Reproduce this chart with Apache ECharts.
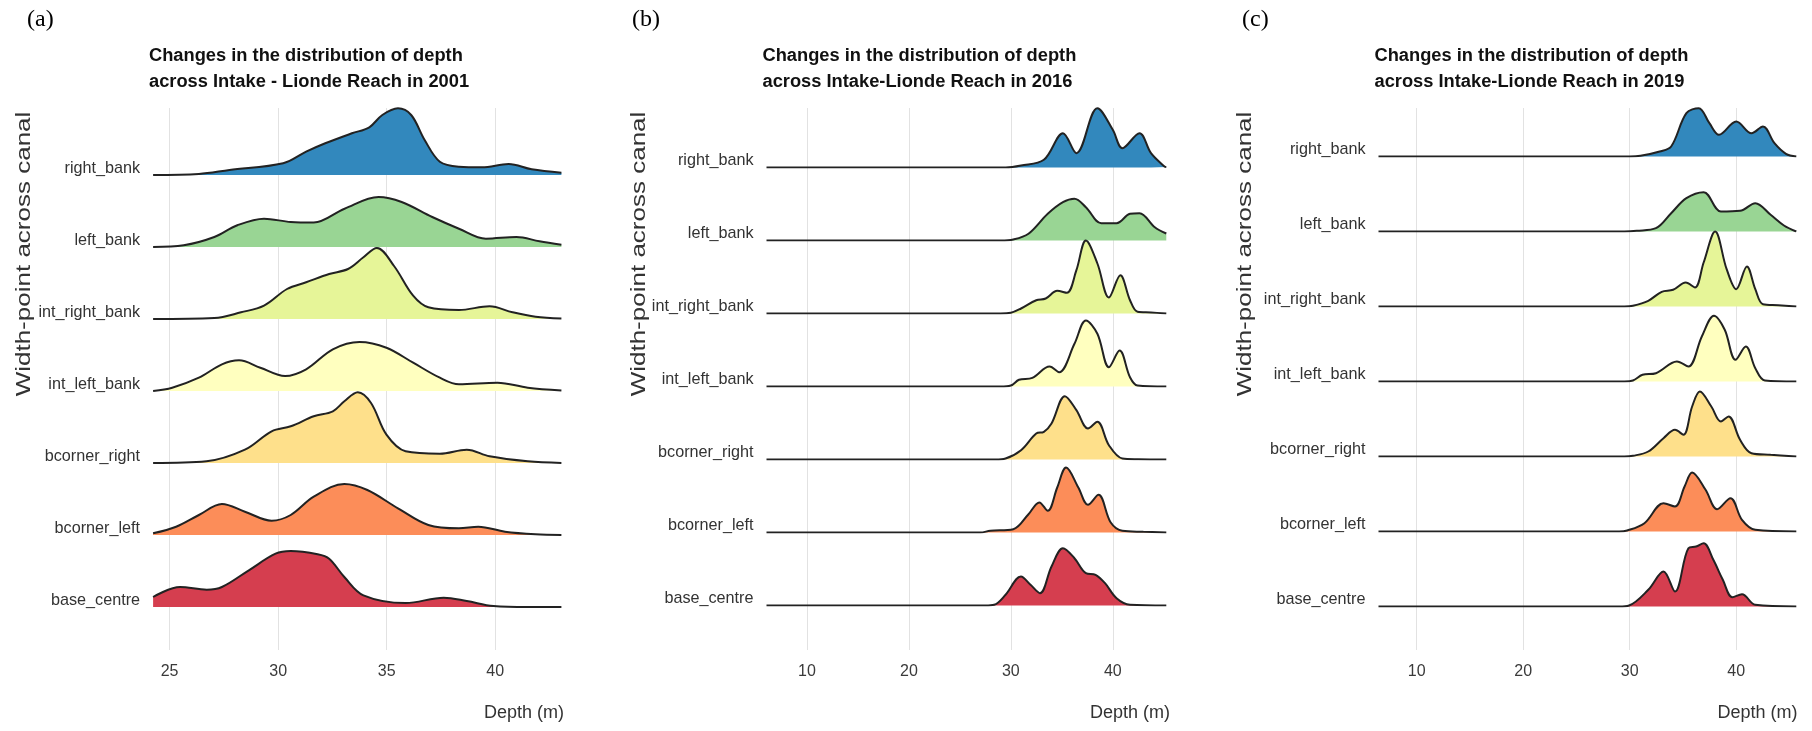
<!DOCTYPE html>
<html>
<head>
<meta charset="utf-8">
<script src="https://cdn.jsdelivr.net/npm/echarts@6/dist/echarts.min.js"></script>
<style>
  html, body { margin: 0; padding: 0; background: #ffffff; }
  #chart { width: 1812px; height: 731px; }
</style>
</head>
<body>
<div id="chart"></div>
<script>
// Ridge categories (top to bottom) and their Spectral fill colours
const categories = ['right_bank', 'left_bank', 'int_right_bank', 'int_left_bank', 'bcorner_right', 'bcorner_left', 'base_centre'];
const ridgeColors = ['#3288BD', '#99D594', '#E6F598', '#FFFFBF', '#FEE08B', '#FC8D59', '#D53E4F'];

const panelTags = ['(a)', '(b)', '(c)'];
const panelTitles = [
  'Changes in the distribution of depth\nacross Intake - Lionde Reach in 2001',
  'Changes in the distribution of depth\nacross Intake-Lionde Reach in 2016',
  'Changes in the distribution of depth\nacross Intake-Lionde Reach in 2019'
];
const yTitle = 'Width-point across canal';
const xTitle = 'Depth (m)';

// Depth range shown on each panel's x axis and the tick step
const depthRanges = [[24.24, 43.05], [6.03, 45.25], [6.41, 45.64]];
const tickSteps = [5, 10, 10];

// ---- Density curves, [depth (m), relative density] ----
// 2001
const rightBank2001 = [[24.24,0],[26.35,0.01],[27.76,0.05],[30.23,0.117],[31.29,0.233],[32.17,0.317],[33.4,0.417],[34.2,0.477],[34.8,0.6],[35.52,0.667],[36.13,0.6],[36.75,0.35],[37.45,0.133],[38.33,0.083],[39.39,0.077],[40.62,0.11],[41.68,0.057],[43.05,0.023]];
const leftBank2001 = [[24.24,0],[25.65,0.017],[27.06,0.1],[28.12,0.217],[29.35,0.283],[30.58,0.25],[31.64,0.245],[33.06,0.383],[34.63,0.5],[35.69,0.45],[37.1,0.3],[38.33,0.183],[39.57,0.083],[40.98,0.1],[42.04,0.057],[43.05,0.023]];
const intRightBank2001 = [[24.24,0],[27.06,0.01],[28.29,0.067],[29.35,0.133],[30.41,0.3],[31.29,0.367],[32.35,0.45],[33.22,0.5],[33.93,0.617],[34.55,0.71],[35.34,0.53],[36.22,0.233],[36.92,0.117],[38.33,0.09],[39.74,0.127],[40.8,0.067],[41.86,0.023],[43.05,0.005]];
const intLeftBank2001 = [[24.24,0],[25.12,0.033],[26.35,0.133],[27.41,0.267],[28.2,0.307],[29.18,0.233],[30.32,0.15],[31.29,0.217],[32.52,0.417],[33.75,0.49],[34.99,0.433],[36.22,0.283],[37.45,0.133],[38.33,0.067],[40.1,0.083],[41.5,0.033],[43.05,0.005]];
const bcornerRight2001 = [[24.24,0],[26.7,0.017],[28.47,0.133],[29.7,0.317],[30.58,0.367],[31.64,0.467],[32.52,0.517],[33.05,0.617],[33.67,0.707],[34.28,0.6],[34.99,0.283],[35.87,0.117],[37.45,0.093],[38.69,0.133],[39.74,0.067],[41.5,0.017],[43.05,0]];
const bcornerLeft2001 = [[24.24,0.017],[25.3,0.083],[26.35,0.2],[27.41,0.31],[28.47,0.233],[29.7,0.143],[30.58,0.2],[31.64,0.383],[33.05,0.51],[34.11,0.45],[35.52,0.267],[36.92,0.1],[38.33,0.067],[39.22,0.083],[40.45,0.033],[41.86,0.007],[43.05,0]];
const baseCentre2001 = [[24.24,0.1],[25.48,0.2],[26.71,0.173],[27.41,0.2],[28.65,0.367],[29.88,0.533],[30.58,0.56],[31.82,0.527],[32.35,0.483],[33.05,0.3],[33.93,0.117],[35.87,0.04],[37.63,0.093],[38.69,0.06],[39.92,0.01],[41.5,0],[43.05,0]];

// 2016
const rightBank2016 = [[6.03,0],[29.5,0],[31.0,0.02],[33.24,0.077],[35.11,0.343],[36.43,0.143],[38.49,0.593],[40.0,0.377],[40.94,0.193],[42.62,0.343],[43.75,0.143],[45.07,0.01],[45.25,0.005]];
const leftBank2016 = [[6.03,0],[29.0,0],[30.24,0.01],[31.73,0.067],[33.62,0.267],[35.11,0.383],[36.24,0.417],[37.36,0.333],[38.87,0.173],[40.37,0.173],[41.69,0.267],[42.62,0.273],[44.12,0.133],[45.25,0.07]];
const intRightBank2016 = [[6.03,0],[29.0,0],[30.0,0.007],[31.0,0.05],[32.49,0.133],[33.42,0.15],[34.55,0.227],[35.5,0.207],[36.43,0.433],[37.36,0.73],[38.49,0.5],[39.62,0.16],[40.74,0.383],[41.69,0.133],[42.43,0.017],[43.75,0.01],[45.25,0]];
const intLeftBank2016 = [[6.03,0],[29.0,0],[30.0,0.01],[30.8,0.067],[32.11,0.087],[33.8,0.2],[34.74,0.143],[36.24,0.427],[37.36,0.66],[38.49,0.527],[39.62,0.193],[40.67,0.36],[41.69,0.093],[42.43,0.01],[45.25,0]];
const bcornerRight2016 = [[6.03,0],[28.5,0],[29.48,0.01],[31.0,0.093],[32.49,0.26],[33.24,0.277],[33.99,0.36],[35.3,0.633],[36.43,0.493],[37.56,0.31],[38.49,0.377],[39.62,0.143],[40.94,0.01],[42.5,0.003],[45.25,0]];
const bcornerLeft2016 = [[6.03,0],[27.0,0],[27.98,0.017],[30.24,0.033],[31.73,0.183],[32.79,0.3],[33.62,0.217],[34.55,0.45],[35.42,0.65],[36.62,0.45],[37.56,0.277],[38.6,0.377],[39.8,0.1],[40.94,0.017],[43.0,0.007],[45.25,0]];
const baseCentre2016 = [[6.03,0],[27.5,0],[28.36,0.007],[29.48,0.107],[30.99,0.29],[31.93,0.207],[32.86,0.123],[33.99,0.39],[35.11,0.573],[36.24,0.473],[37.36,0.323],[38.31,0.307],[39.24,0.223],[40.37,0.073],[41.69,0.007],[45.25,0]];

// 2019
const rightBank2019 = [[6.41,0],[30.0,0],[31.01,0.007],[32.81,0.05],[33.89,0.1],[35.32,0.433],[36.48,0.483],[37.48,0.333],[38.38,0.217],[40.0,0.35],[41.43,0.233],[42.51,0.3],[43.59,0.133],[44.67,0.027],[45.64,0]];
const leftBank2019 = [[6.41,0],[29.5,0],[30.66,0.007],[32.46,0.033],[33.89,0.183],[35.32,0.333],[36.94,0.393],[38.56,0.2],[40.36,0.207],[41.79,0.283],[43.23,0.167],[44.48,0.06],[45.64,0]];
const intRightBank2019 = [[6.41,0],[29.5,0],[30.3,0.007],[31.74,0.057],[33.0,0.147],[34.07,0.167],[35.26,0.24],[36.12,0.19],[36.94,0.44],[38.02,0.75],[39.1,0.373],[40.0,0.173],[41.0,0.4],[41.79,0.173],[42.51,0.023],[43.94,0.013],[45.64,0]];
const intLeftBank2019 = [[6.41,0],[29.5,0],[30.3,0.01],[31.2,0.067],[32.46,0.083],[34.43,0.2],[35.51,0.15],[36.77,0.45],[37.91,0.657],[38.92,0.517],[39.93,0.217],[40.9,0.35],[41.79,0.133],[42.69,0.01],[45.64,0]];
const bcornerRight2019 = [[6.41,0],[29.5,0],[30.3,0.007],[31.74,0.05],[33.17,0.183],[34.25,0.267],[35.04,0.217],[35.86,0.5],[36.58,0.65],[37.66,0.5],[38.56,0.35],[39.28,0.4],[40.36,0.167],[41.43,0.033],[43.23,0.017],[45.64,0]];
const bcornerLeft2019 = [[6.41,0],[29.0,0],[29.76,0.01],[31.38,0.083],[33.17,0.283],[34.25,0.25],[35.15,0.45],[35.86,0.59],[37.12,0.417],[38.2,0.223],[39.46,0.333],[40.54,0.117],[41.79,0.017],[45.64,0]];
const baseCentre2019 = [[6.41,0],[29.0,0],[29.94,0.01],[31.74,0.167],[33.17,0.35],[34.25,0.15],[35.51,0.583],[36.23,0.6],[36.94,0.633],[37.85,0.467],[38.74,0.267],[39.64,0.093],[40.54,0.123],[41.79,0.017],[45.64,0]];

const panelCurves = [
  [rightBank2001, leftBank2001, intRightBank2001, intLeftBank2001, bcornerRight2001, bcornerLeft2001, baseCentre2001],
  [rightBank2016, leftBank2016, intRightBank2016, intLeftBank2016, bcornerRight2016, bcornerLeft2016, baseCentre2016],
  [rightBank2019, leftBank2019, intRightBank2019, intLeftBank2019, bcornerRight2019, bcornerLeft2019, baseCentre2019]
];

// ---- Layout (pixels) ----
const layout = [
  { plotLeft: 153.1, plotRight: 561.4, base0: 175, step: 72, tagX: 27, titleX: 149, yTitleX: 24, xTitleRight: 564 },
  { plotLeft: 766.5, plotRight: 1166.3, base0: 167.5, step: 73, tagX: 632, titleX: 762.5, yTitleX: 639, xTitleRight: 1170 },
  { plotLeft: 1378.5, plotRight: 1796.3, base0: 156.5, step: 75, tagX: 1242, titleX: 1374.5, yTitleX: 1245.5, xTitleRight: 1797.5 }
];
const PLOT_TOP = 108, PLOT_BOTTOM = 650, RIDGE_H = 100, W = 1812;
const SANS = "'Liberation Sans', Arial, sans-serif";

const grids = [], xAxes = [], yAxes = [], series = [], titles = [], graphics = [];

layout.forEach((L, p) => {
  const [xMin, xMax] = depthRanges[p];
  const width = L.plotRight - L.plotLeft;

  // Background panel: vertical grid lines and depth tick labels
  const bg = grids.length;
  grids.push({ left: L.plotLeft, width: width, top: PLOT_TOP, height: PLOT_BOTTOM - PLOT_TOP });
  xAxes.push({
    gridIndex: bg, type: 'value', min: xMin, max: xMax,
    minInterval: tickSteps[p], maxInterval: tickSteps[p],
    axisLine: { show: false }, axisTick: { show: false },
    axisLabel: { show: true, showMinLabel: false, showMaxLabel: false, margin: 14,
      fontFamily: SANS, fontSize: 16, color: '#3a3a3a' },
    splitLine: { show: true, showMinLine: false, showMaxLine: false,
      lineStyle: { color: '#e2e2e2', width: 1 } }
  });
  yAxes.push({ gridIndex: bg, type: 'value', show: false, min: 0, max: 1 });

  // One grid per ridge, its bottom edge on the ridge baseline
  categories.forEach((name, i) => {
    const g = grids.length;
    const baseline = L.base0 + L.step * i;
    grids.push({ left: L.plotLeft, width: width, top: baseline - RIDGE_H, height: RIDGE_H });
    xAxes.push({ gridIndex: g, type: 'value', min: xMin, max: xMax, show: false });
    yAxes.push({
      gridIndex: g, type: 'value', min: 0, max: 1, interval: 1,
      axisLine: { show: false }, axisTick: { show: false }, splitLine: { show: false },
      axisLabel: {
        show: true, margin: 13, fontFamily: SANS, fontSize: 16.2, color: '#333',
        verticalAlign: 'bottom', lineHeight: 13,
        formatter: (v) => (v === 0 ? name : '')
      }
    });
    series.push({
      type: 'line', name: name, xAxisIndex: g, yAxisIndex: g,
      data: panelCurves[p][i], smooth: 0.35, symbol: 'none', silent: true,
      z: 2 + i,
      lineStyle: { color: '#222222', width: 2 },
      areaStyle: { color: ridgeColors[i], opacity: 1 }
    });
  });

  titles.push({
    text: panelTags[p], left: L.tagX, top: 8, padding: 0,
    textStyle: { fontFamily: "'Liberation Serif', serif", fontSize: 24, fontWeight: 'normal', color: '#000' }
  });
  titles.push({
    text: panelTitles[p], left: L.titleX, top: 43, padding: 0,
    textStyle: { fontFamily: SANS, fontSize: 18.3, fontWeight: 'bold', lineHeight: 26, color: '#111' }
  });
  titles.push({
    text: xTitle, right: W - L.xTitleRight, top: 704, padding: 0,
    textStyle: { fontFamily: SANS, fontSize: 18, fontWeight: 'normal', color: '#333' }
  });

  graphics.push({
    type: 'text', x: L.yTitleX, y: 254, rotation: Math.PI / 2, scaleY: 0.8, silent: true,
    style: { text: yTitle, fontFamily: SANS, fontSize: 26,
      fill: '#333', align: 'center', verticalAlign: 'middle' }
  });
});

const chart = echarts.init(document.getElementById('chart'), null, { renderer: 'canvas' });
chart.setOption({
  animation: false,
  backgroundColor: '#ffffff',
  title: titles,
  grid: grids,
  xAxis: xAxes,
  yAxis: yAxes,
  series: series,
  graphic: graphics
});
</script>
</body>
</html>
